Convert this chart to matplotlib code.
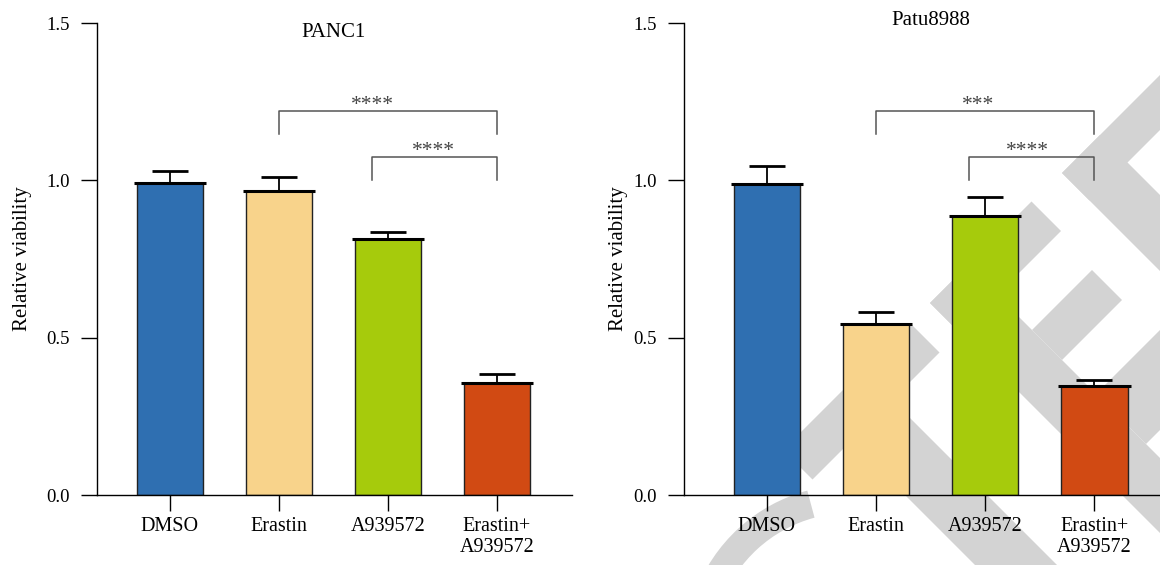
import matplotlib
matplotlib.use("Agg")
import matplotlib.pyplot as plt
from matplotlib.patches import Polygon, Wedge

plt.rcParams['font.family'] = ['Liberation Serif', 'DejaVu Serif']

# data
groups = ["DMSO", "Erastin", "A939572", "Erastin+\nA939572"]
bar_colors = ["#2f6fb1", "#f8d38b", "#a6cb0c", "#d14a13"]

panc1_mean = [0.990, 0.967, 0.814, 0.357]
panc1_err = [0.039, 0.045, 0.022, 0.027]
patu_mean = [0.989, 0.544, 0.888, 0.347]
patu_err = [0.055, 0.038, 0.060, 0.018]

# (left x, right x, bracket top, leg bottom, label x, label)
panc1_sig = [(1, 3, 1.221, 1.148, 1.86, "****"),
             (1.85, 3, 1.074, 1.0, 2.42, "****")]
patu_sig = [(1, 3, 1.221, 1.148, 1.93, "***"),
            (1.85, 3, 1.074, 1.0, 2.39, "****")]

yticks = [0.0, 0.5, 1.0, 1.5]


def draw_panel(ax, title, title_y, means, errs, sig, xlim):
    x = list(range(len(means)))
    ax.bar(x, means, width=0.605, color=bar_colors, edgecolor="#222222",
           linewidth=1.0, zorder=2)
    ax.errorbar(x, means, yerr=[[0] * len(errs), errs], fmt="none",
                ecolor="black", elinewidth=1.3, capsize=13.3, capthick=2.0,
                zorder=3)
    ax.hlines(means, [i - 0.33 for i in x], [i + 0.33 for i in x],
              colors="black", lw=2.2, zorder=3)

    for x1, x2, yt, yl, xt, lab in sig:
        ax.plot([x1, x1, x2, x2], [yl, yt, yt, yl], color="#555555", lw=1.1,
                zorder=3)
        ax.text(xt, yt - 0.012, lab, ha="center", va="bottom",
                fontsize=15.5, color="#444444")

    ax.text(1.5, title_y, title, ha="center", va="center", fontsize=15)

    ax.set_xlim(*xlim)
    ax.set_ylim(0, 1.5)
    ax.set_yticks(yticks)
    ax.set_yticklabels([f"{t:.1f}" for t in yticks])
    ax.set_xticks(x)
    ax.set_xticklabels(groups)
    ax.tick_params(axis="both", direction="out", length=11.5, width=1.0,
                   color="black")
    ax.tick_params(axis="x", labelsize=14.5, pad=4)
    ax.tick_params(axis="y", labelsize=13.5, pad=8)
    for s in ["top", "right"]:
        ax.spines[s].set_visible(False)
    for s in ["left", "bottom"]:
        ax.spines[s].set_linewidth(1.0)
    ax.set_ylabel("Relative viability", fontsize=15)
    ax.yaxis.label.set_va("center")


fig = plt.figure(figsize=(11.6, 5.65), dpi=100)
ax1 = fig.add_axes([97 / 1160, 70 / 565, 475 / 1160, 472 / 565])
ax2 = fig.add_axes([684 / 1160, 70 / 565, 476 / 1160, 472 / 565])

draw_panel(ax1, "PANC1", 1.47, panc1_mean, panc1_err, panc1_sig, (-0.67, 3.69))
draw_panel(ax2, "Patu8988", 1.507, patu_mean, patu_err, patu_sig, (-0.76, 3.6))
ax1.yaxis.set_label_coords(-0.157, 0.5)
ax2.yaxis.set_label_coords(-0.137, 0.5)

# grey watermark behind the right panel (pixel geometry, y down)
wm = "#d3d3d3"


def band(u0, u1, v0, v1):
    pts = []
    for u, v in [(u0, v0), (u0, v1), (u1, v1), (u1, v0)]:
        X, Y = (u + v) / 2, (u - v) / 2
        pts.append((X / 100, (565 - Y) / 100))
    return pts


wm_bands = [
    (1233, 1292, 333, 587),
    (1233, 1292, 627, 830),
    (1235, 1290, 889, 1400),
    (1235, 1700, 889, 965),
    (1292, 1800, 410, 492),
    (1233, 1800, 627, 702),
    (1362, 1422, 702, 822),
    (1490, 1590, 702, 1000),
]
for b in wm_bands:
    p = Polygon(band(*b), closed=True, facecolor=wm, edgecolor="none",
                transform=fig.dpi_scale_trans, clip_on=False, zorder=0.5)
    ax2.add_patch(p)
arc = Wedge((8.5, -0.85), 1.65, 105, 160, width=0.28, facecolor=wm,
            edgecolor="none", transform=fig.dpi_scale_trans, clip_on=False,
            zorder=0.5)
ax2.add_patch(arc)

fig.savefig("out.png", dpi=100)
